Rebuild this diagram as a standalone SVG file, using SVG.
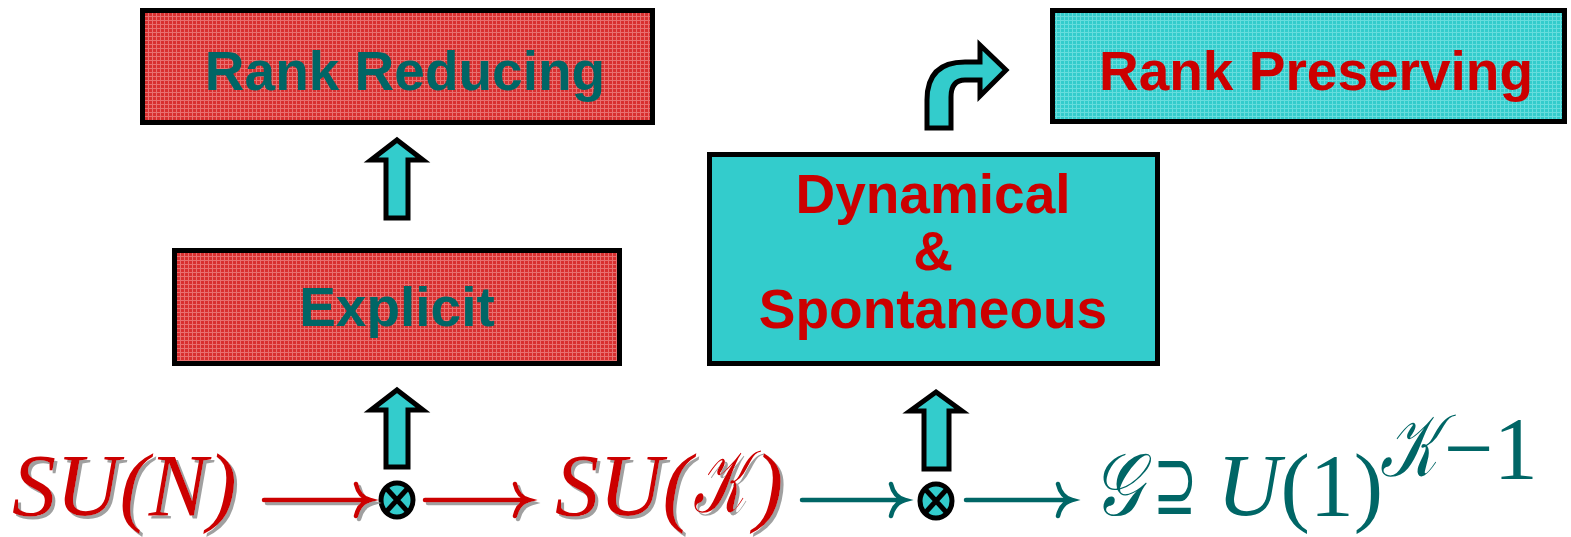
<svg xmlns="http://www.w3.org/2000/svg" width="1571" height="537" viewBox="0 0 1571 537">
<style>
.box{stroke:#000;stroke-width:5}
.lbl{font-family:"Liberation Sans",Arial,sans-serif;font-weight:bold;font-size:55px;text-anchor:middle}
.teal{fill:#006666}
.red{fill:#cc0000}
.blk{fill:#33cccc;stroke:#000;stroke-width:5;stroke-linejoin:miter}
.math{font-family:"Liberation Serif","DejaVu Serif",serif;font-style:italic;font-size:88px}
.up{font-style:normal}
.ln{fill:none;stroke-width:4.5;stroke-linecap:round}
.rs{stroke:#cc0000}
.ts{stroke:#006666}
</style>
<defs>
<pattern id="pr" width="4" height="4" patternUnits="userSpaceOnUse">
<rect width="4" height="4" fill="#d83030"/>
<rect width="4" height="1" fill="#e87070"/>
<rect width="1" height="4" fill="#e87070"/>
</pattern>
<pattern id="pc" width="4" height="4" patternUnits="userSpaceOnUse">
<rect width="4" height="4" fill="#33cccc"/>
<rect width="4" height="1" fill="#66dddd"/>
<rect width="1" height="4" fill="#66dddd"/>
</pattern>
<filter id="sh" x="-5%" y="-10%" width="115%" height="130%">
<feDropShadow dx="3" dy="3" stdDeviation="0.6" flood-color="#a0a0a0" flood-opacity="1"/>
</filter>
</defs>

<g id="rank-reducing">
<rect class="box" x="142.5" y="10.5" width="510" height="112" fill="url(#pr)"/>
<text class="lbl teal" x="405" y="90">Rank Reducing</text>
</g>

<g id="explicit">
<rect class="box" x="174.5" y="250.5" width="445" height="113" fill="url(#pr)"/>
<text class="lbl teal" x="397" y="326">Explicit</text>
</g>

<g id="dynamical">
<rect class="box" x="709.5" y="154.5" width="448" height="209" fill="#33cccc"/>
<text class="lbl red" x="933" y="213">Dynamical</text>
<text class="lbl red" x="933" y="270">&amp;</text>
<text class="lbl red" x="933" y="328">Spontaneous</text>
</g>

<g id="rank-preserving">
<rect class="box" x="1052.5" y="10.5" width="512" height="111" fill="url(#pc)"/>
<text class="lbl red" x="1316" y="90" font-size="56">Rank Preserving</text>
</g>

<g id="su-n" filter="url(#sh)">
<text class="math red" x="12" y="515">SU(N)</text>
</g>

<g id="otimes-1">
<ellipse class="blk" cx="397" cy="500" rx="16" ry="17"/>
<path d="M386,488 L408,512 M408,488 L386,512" stroke="#000" stroke-width="5"/>
</g>

<g id="su-k" filter="url(#sh)">
<text class="math red" x="555" y="515">SU(</text>
<text class="math red" x="693" y="512" font-size="74" textLength="52" lengthAdjust="spacingAndGlyphs">𝒦</text>
<text class="math red" x="754" y="515">)</text>
</g>

<g id="otimes-2">
<ellipse class="blk" cx="936" cy="501" rx="16" ry="17"/>
<path d="M925,489 L947,513 M947,489 L925,513" stroke="#000" stroke-width="5"/>
</g>

<g id="g-u1">
<text class="math teal" x="1092" y="515" textLength="50" lengthAdjust="spacingAndGlyphs">𝒢</text>
<text class="teal" x="1153" y="514" font-family="DejaVu Sans,sans-serif" font-size="86" textLength="44" lengthAdjust="spacingAndGlyphs">⊇</text>
<text class="math teal" x="1217" y="515">U<tspan class="up">(1)</tspan></text>
<text class="math teal" x="1380" y="476" font-size="52" textLength="58" lengthAdjust="spacingAndGlyphs">𝒦</text>
<text class="math teal up" x="1444" y="478" font-size="50">−1</text>
</g>

<g id="connectors">
<g filter="url(#sh)">
<path class="ln rs" d="M264,500 L368,500 M356,484 Q359,497 370,500 Q359,503 356,516"/>
<path class="ln rs" d="M425,500 L527,500 M515,484 Q518,497 529,500 Q518,503 515,516"/>
</g>
<path class="ln ts" d="M802,500 L903,500 M891,484 Q894,497 905,500 Q894,503 891,516"/>
<path class="ln ts" d="M966,500 L1070,500 M1058,484 Q1061,497 1072,500 Q1061,503 1058,516"/>
<polygon class="blk" points="397,140 423,160 408,160 408,218 386,218 386,160 371,160"/>
<polygon class="blk" points="397,390 423,410 408,410 408,467 386,467 386,410 371,410"/>
<polygon class="blk" points="936,392 962,411 949,411 949,469 924,469 924,411 910,411"/>
<path class="blk" d="M927,128 L927,100 Q927,62 965,62 L980,62 L980,45 L1006,70 L980,96 L980,80 L965,80 Q951,80 951,97 L951,128 Z"/>
</g>
</svg>
